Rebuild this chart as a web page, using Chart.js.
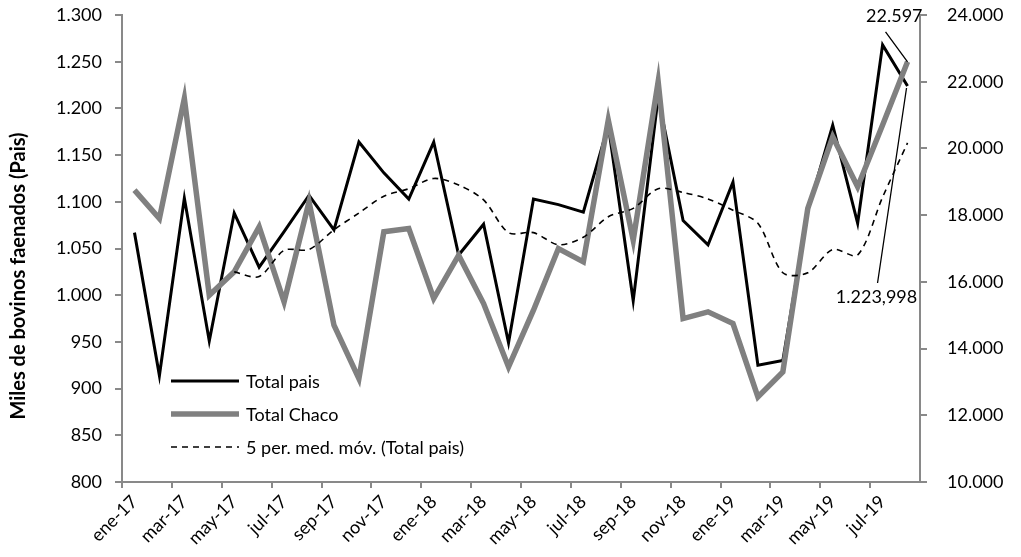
<!DOCTYPE html>
<html>
<head>
<meta charset="utf-8">
<title>Faena de bovinos</title>
<script src="https://cdn.jsdelivr.net/npm/chart.js@4.4.0/dist/chart.umd.min.js"></script>
<style>
  html, body { margin: 0; padding: 0; background: #fff; }
  #wrap { width: 1021px; height: 557px; }
</style>
</head>
<body>
<div id="wrap"><canvas id="faenaChart"></canvas></div>
<script>
// meses (ene-17 a ago-19)
const meses = [
  'ene-17', 'feb-17', 'mar-17', 'abr-17', 'may-17', 'jun-17', 'jul-17', 'ago-17', 'sep-17', 'oct-17', 'nov-17', 'dic-17',
  'ene-18', 'feb-18', 'mar-18', 'abr-18', 'may-18', 'jun-18', 'jul-18', 'ago-18', 'sep-18', 'oct-18', 'nov-18', 'dic-18',
  'ene-19', 'feb-19', 'mar-19', 'abr-19', 'may-19', 'jun-19', 'jul-19', 'ago-19'
];

// Total pais (miles de cabezas, eje izquierdo)
const totalPais = [
  1067, 914, 1104, 951, 1088, 1030, 1068, 1107, 1070, 1164, 1131, 1103,
  1164, 1043, 1076, 949, 1103, 1097, 1089, 1182, 994, 1212, 1080, 1054,
  1121, 925, 930, 1090, 1182, 1077, 1268, 1224
];

// Total Chaco (cabezas, eje derecho)
const totalChaco = [
  18750, 17900, 21500, 15600, 16300, 17650, 15400, 18400, 14700, 13100, 17500, 17600,
  15500, 16800, 15350, 13450, 15150, 17000, 16600, 20850, 17250, 22000, 14900, 15100,
  14750, 12550, 13300, 18200, 20350, 18850, 20700, 22597
];

// 5 per. med. mov. (Total pais)
const mediaMovil = [
  null, null, null, null, 1025, 1020, 1048, 1049, 1070, 1088, 1106, 1114,
  1125, 1118, 1102, 1067, 1067, 1054, 1062, 1084, 1093, 1114, 1110, 1103,
  1091, 1077, 1024, 1024, 1049, 1043, 1105, 1163
];

// etiquetas del ultimo punto
const etiquetaChaco = '22.597';
const etiquetaPais = '1.223,998';
const tituloEje = 'Miles de bovinos faenados (Pais)';

const gris = '#898989';
const fmt = v => v.toLocaleString('de-DE');

Chart.defaults.font.family = 'Lato, "Open Sans", sans-serif';
Chart.defaults.font.size = 18;
Chart.defaults.color = '#000';

// leyenda dentro del grafico, titulo del eje y etiquetas de datos
const extras = {
  id: 'extras',
  afterDatasetsDraw(chart) {
    const ctx = chart.ctx;
    const x = chart.scales.x, yL = chart.scales.y, yR = chart.scales.y2;
    ctx.save();

    // leyenda
    const items = [
      { text: 'Total pais', color: '#000', width: 3, dash: [] },
      { text: 'Total Chaco', color: '#808080', width: 5.5, dash: [] },
      { text: '5 per. med. móv. (Total pais)', color: '#000', width: 1.6, dash: [6, 5] }
    ];
    ctx.font = '18px Lato, "Open Sans", sans-serif';
    ctx.textBaseline = 'middle';
    items.forEach((it, i) => {
      const yy = 381 + i * 33;
      ctx.beginPath();
      ctx.setLineDash(it.dash);
      ctx.lineWidth = it.width;
      ctx.strokeStyle = it.color;
      ctx.moveTo(171, yy);
      ctx.lineTo(239, yy);
      ctx.stroke();
      ctx.setLineDash([]);
      ctx.fillStyle = '#000';
      ctx.textAlign = 'left';
      ctx.fillText(it.text, 246, yy + 1);
    });

    // titulo del eje izquierdo
    ctx.save();
    ctx.translate(19, 276);
    ctx.rotate(-Math.PI / 2);
    ctx.font = 'bold 20px Lato, "Open Sans", sans-serif';
    ctx.textAlign = 'center';
    ctx.fillText(tituloEje, 0, 0);
    ctx.restore();

    // etiquetas del ultimo punto
    const last = meses.length - 1;
    const px = x.getPixelForValue(last);
    const pyC = yR.getPixelForValue(totalChaco[last]);
    const pyP = yL.getPixelForValue(totalPais[last]);
    ctx.lineWidth = 1.3;
    ctx.strokeStyle = '#000';
    ctx.beginPath();
    ctx.moveTo(px, pyC);
    ctx.lineTo(px - 22, pyC - 30);
    ctx.moveTo(px - 1, pyP + 2);
    ctx.lineTo(px - 30, pyP + 197);
    ctx.stroke();
    ctx.textAlign = 'right';
    ctx.fillText(etiquetaChaco, px + 15, pyC - 46);
    ctx.textAlign = 'center';
    ctx.fillText(etiquetaPais, px - 31, pyP + 211);
    ctx.restore();
  }
};

// ancho fijo de los ejes verticales, sin relleno extra arriba/abajo
const fijarEje = ancho => s => {
  s.width = ancho;
  s.paddingTop = 0;
  s.paddingBottom = 0;
};

new Chart(document.getElementById('faenaChart'), {
  type: 'line',
  data: {
    labels: meses,
    datasets: [
      {
        label: '5 per. med. móv. (Total pais)',
        data: mediaMovil,
        yAxisID: 'y',
        borderColor: '#000',
        borderWidth: 1.6,
        borderDash: [6, 5],
        tension: 0.3,
        pointRadius: 0,
        fill: false,
        order: 0
      },
      {
        label: 'Total Chaco',
        data: totalChaco,
        yAxisID: 'y2',
        borderColor: '#808080',
        borderWidth: 5.5,
        tension: 0,
        pointRadius: 0,
        fill: false,
        order: 1
      },
      {
        label: 'Total pais',
        data: totalPais,
        yAxisID: 'y',
        borderColor: '#000',
        borderWidth: 3,
        tension: 0,
        pointRadius: 0,
        fill: false,
        order: 2
      }
    ]
  },
  options: {
    responsive: true,
    maintainAspectRatio: false,
    animation: false,
    layout: { padding: { top: 15, left: 0, right: 0, bottom: 0 } },
    plugins: {
      legend: { display: false },
      tooltip: { enabled: false }
    },
    scales: {
      x: {
        offset: true,
        grid: {
          offset: true,
          drawOnChartArea: false,
          tickLength: 6,
          lineWidth: 2,
          color: ctx => (ctx.index % 2 === 0 ? gris : 'rgba(0,0,0,0)')
        },
        border: { color: gris, width: 2 },
        ticks: {
          autoSkip: false,
          minRotation: 45,
          maxRotation: 45,
          padding: 3,
          callback: function(val, idx) {
            return idx % 2 === 0 ? this.getLabelForValue(val) : '';
          }
        },
        afterFit: s => {
          s.height = 75;
          s.paddingLeft = 0;
          s.paddingRight = 0;
        }
      },
      y: {
        position: 'left',
        min: 800,
        max: 1300,
        grid: { drawOnChartArea: false, tickLength: 7, lineWidth: 2, color: gris },
        border: { color: gris, width: 2 },
        ticks: { stepSize: 50, padding: 13, callback: v => fmt(v) },
        afterFit: fijarEje(122)
      },
      y2: {
        position: 'right',
        min: 10000,
        max: 24000,
        grid: { drawOnChartArea: false, tickLength: 7, lineWidth: 2, color: gris },
        border: { color: gris, width: 2 },
        ticks: { stepSize: 2000, padding: 20, callback: v => fmt(v) },
        afterFit: fijarEje(101)
      }
    }
  },
  plugins: [extras]
});
</script>
</body>
</html>
